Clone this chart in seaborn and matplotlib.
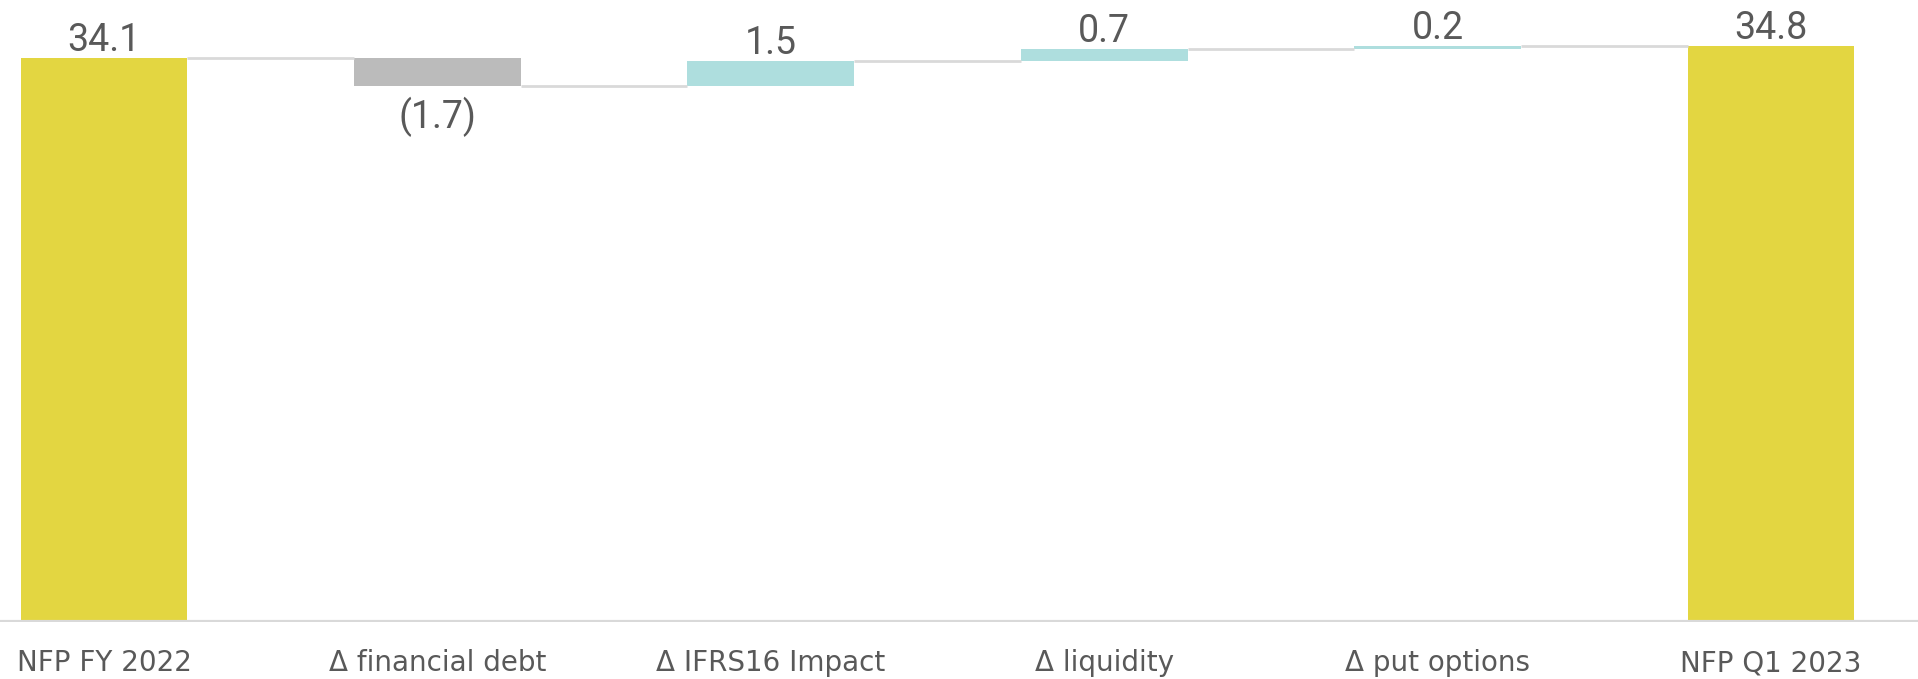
import matplotlib
matplotlib.use("Agg")
import matplotlib.pyplot as plt
import seaborn as sns
import numpy as np
import pandas as pd

# Net financial position bridge: opening total, movements, closing total
categories = ["NFP FY 2022", "\u0394 financial debt", "\u0394 IFRS16 Impact",
              "\u0394 liquidity", "\u0394 put options", "NFP Q1 2023"]
values = [34.1, -1.7, 1.5, 0.7, 0.2, 34.8]
is_total = [True, False, False, False, False, True]
value_labels = ["34.1", "(1.7)", "1.5", "0.7", "0.2", "34.8"]

TOTAL_COLOR = "#E3D641"
UP_COLOR = "#AEDEDE"
DOWN_COLOR = "#BBBBBB"
TEXT_COLOR = "#595959"
LINE_COLOR = "#D9D9D9"

# Bar extents for the waterfall
bottoms, tops, colors = [], [], []
running = 0.0
for v, tot in zip(values, is_total):
    if tot:
        bottoms.append(0.0)
        tops.append(v)
        colors.append(TOTAL_COLOR)
        running = v
    else:
        new = running + v
        bottoms.append(min(running, new))
        tops.append(max(running, new))
        colors.append(UP_COLOR if v >= 0 else DOWN_COLOR)
        running = new
levels = []
running = 0.0
for v, tot in zip(values, is_total):
    running = v if tot else running + v
    levels.append(running)

df = pd.DataFrame({"category": categories,
                   "height": np.array(tops) - np.array(bottoms)})

sns.set_theme(style="white")
plt.rcParams["font.family"] = ["Roboto", "DejaVu Sans"]

fig = plt.figure(figsize=(19.18, 6.79), dpi=100)
ax = fig.add_axes([0, 57.5 / 679, 1, 621.5 / 679])

sns.barplot(data=df, x="category", y="height", hue="category",
            palette=colors, width=0.5, legend=False, ax=ax,
            saturation=1, linewidth=0)

# Lift each bar onto its running base
for patch, b, h in zip(ax.patches, bottoms, df["height"]):
    patch.set_y(b)
    patch.set_height(h)

ax.set_ylim(0, 37.58)
ax.set_xlim(-0.312, 5.441)

# Connector lines between consecutive bars
half = 0.25
for i in range(len(values) - 1):
    ax.plot([i + half, i + 1 - half], [levels[i], levels[i]],
            color=LINE_COLOR, lw=2, zorder=1, solid_capstyle="butt")

ax.axhline(0, color=LINE_COLOR, lw=3, zorder=3)

# Value labels
for i, (v, lab) in enumerate(zip(values, value_labels)):
    if v >= 0:
        ax.annotate(lab, (i, tops[i]), xytext=(0, 5), textcoords="offset points",
                    ha="center", va="baseline", fontsize=27, color=TEXT_COLOR)
    else:
        ax.annotate(lab, (i, bottoms[i]), xytext=(0, -8), textcoords="offset points",
                    ha="center", va="top", fontsize=27, color=TEXT_COLOR)

ax.set_xlabel("")
ax.set_ylabel("")
ax.set_yticks([])
ax.tick_params(axis="x", length=0, pad=20, labelsize=20, labelcolor=TEXT_COLOR)
for lbl in ax.get_xticklabels():
    lbl.set_fontfamily(["DejaVu Sans"])
for s in ax.spines.values():
    s.set_visible(False)
ax.patch.set_alpha(0)

fig.savefig("out.png", dpi=100)
